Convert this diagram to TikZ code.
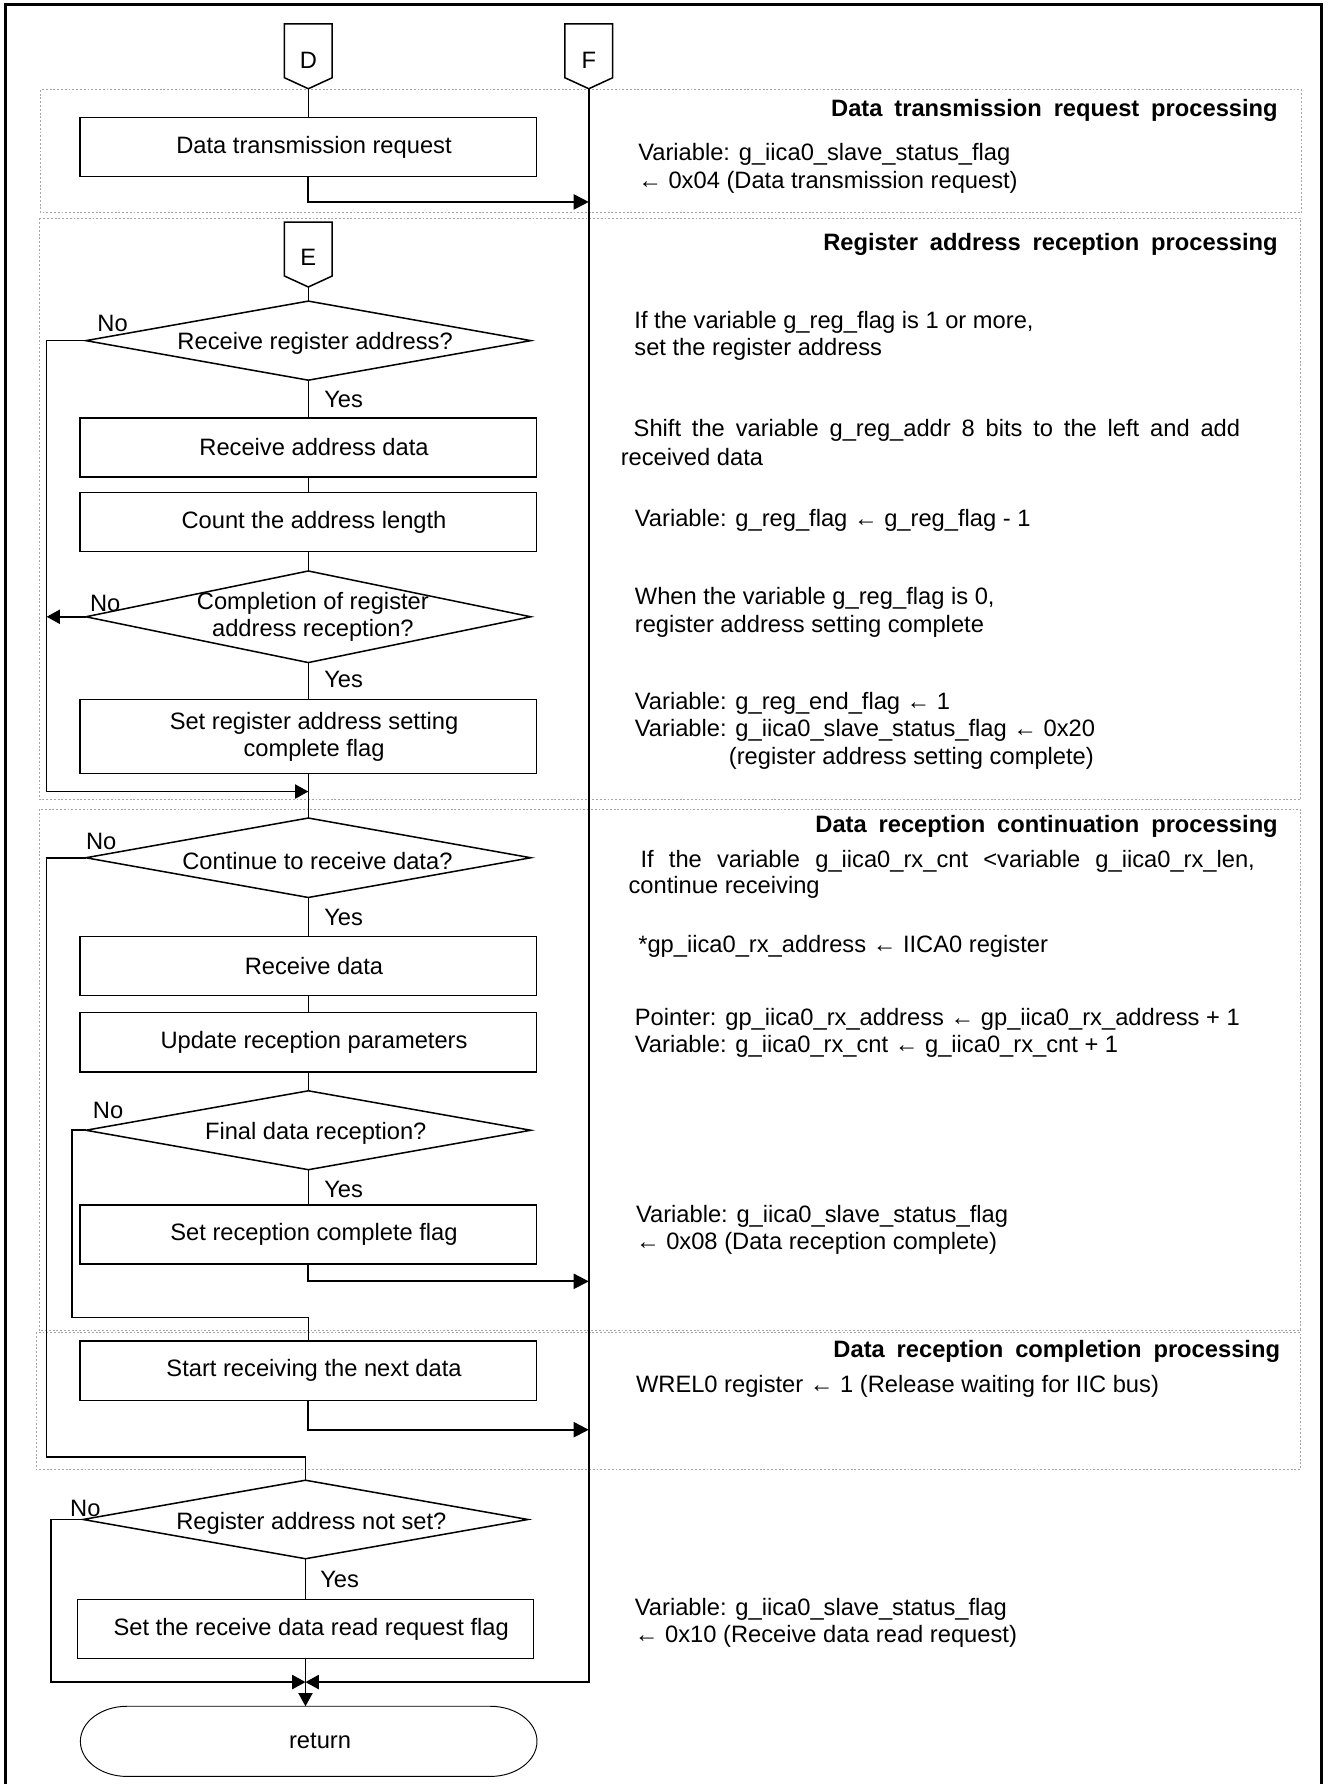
\documentclass[tikz,border=0pt]{standalone}
\usepackage{fontspec}
\setmainfont{Liberation Sans}
\usetikzlibrary{arrows.meta,shapes.geometric}
\newcommand{\myfs}{\fontsize{12.5pt}{14.4pt}\selectfont}
\newcommand{\hd}[1]{{\bfseries\spaceskip=0.5em plus 0.2em minus 0.05em\relax #1}}
\begin{document}
\begin{tikzpicture}[x=0.6pt,y=-0.6pt,
  every node/.style={font=\myfs,inner sep=0pt,outer sep=0pt},
  ln/.style={line width=0.8pt},
  arw/.style={line width=0.8pt,-{Triangle[length=7pt,width=7.5pt]}},
  farw/.style={line width=1pt,-{Triangle[length=8pt,width=8pt]}},
  proc/.style={draw,line width=0.8pt,minimum width=240.6pt,minimum height=31.2pt,execute at begin node={\hspace*{6pt}}},
  dec/.style={draw,diamond,line width=0.8pt,minimum width=234.6pt,minimum height=#1},
  conn/.style={inner sep=0pt,minimum width=25.2pt,minimum height=34.2pt},
  region/.style={draw=black!35,line width=0.4pt,dash pattern=on 1pt off 1pt},
  rtxt/.style={anchor=west,align=left},
  rhd/.style={anchor=east},
]
\useasboundingbox (0,0) rectangle (1167,1568);

% outer frame
\draw[line width=1.5pt] (4.5,1570) -- (4.5,4) -- (1161.5,4) -- (1161.5,1570);

% regions
\draw[region] (35.4,79) rectangle (1144,187);
\draw[region] (35,192) rectangle (1143,703);
\draw[region] (34.3,711) rectangle (1143,1169);
\draw[region] (31.7,1171) rectangle (1143,1291.7);

% rails and junctions
\coordinate (L1) at (41,0);
\coordinate (L2) at (63.3,0);
\coordinate (L3) at (44.7,0);
\coordinate (j2) at (271,695.7);
\coordinate (j4) at (271,1158);
\coordinate (j5) at (268.5,1280.6);
\coordinate (jL) at (268.5,1478.4);
\coordinate (f1) at (517.5,177.5);
\coordinate (f2) at (517.5,1126.2);
\coordinate (f3) at (517.5,1256.6);
\coordinate (fE) at (517.5,1478.4);

% off-page connectors
\node[conn] (D) at (271,49.5) {\raisebox{-2pt}[\height][0pt]{D}};
\node[conn] (F) at (517.5,49.5) {\raisebox{-2pt}[\height][0pt]{F}};
\node[conn] (E) at (271,223.75) {\raisebox{-1.6pt}[\height][0pt]{E}};
\foreach \c in {D,F,E}{
  \draw[ln,fill=white] (\c.north west) -- (\c.north east) -- ([yshift=5.8pt]\c.south east) -- (\c.south) -- ([yshift=5.8pt]\c.south west) -- cycle;
}
\node at (D) {\raisebox{-2pt}[\height][0pt]{D}};
\node at (F) {\raisebox{-2pt}[\height][0pt]{F}};
\node at (E) {\raisebox{-1.6pt}[\height][0pt]{E}};

% process boxes
\node[proc] (dtr) at (271,129.3) {Data transmission request};
\node[proc] (b2) at (271,393.3) {Receive address data};
\node[proc] (b3) at (271,458.9) {Count the address length};
\node[proc,minimum height=39pt,align=center] (b4) at (271,647.5) {Set register address setting\\complete flag};
\node[proc] (b5) at (271,849) {Receive data};
\node[proc] (b6) at (271,916) {Update reception parameters};
\node[proc] (b7) at (271,1084.9) {Set reception complete flag};
\node[proc] (b8) at (271,1204.75) {Start receiving the next data};
\node[proc] (b9) at (268.5,1431.65) {Set the receive data read request flag};

% decisions
\node[dec=41.7pt] (d1) at (271,299.4) {};
\node[dec=48.3pt] (d2) at (271,542.1) {};
\node[dec=41.9pt] (d3) at (271,753.9) {};
\node[dec=41.6pt] (d4) at (271,993.4) {};
\node[dec=41.4pt] (d5) at (268.5,1335.5) {};
\node (d1t) at (277,301.7) {Receive register address?};
\node[align=center] (d2t) at (275,542) {Completion of register\\address reception?};
\node (d3t) at (279,756.6) {Continue to receive data?};
\node (d4t) at (277.5,996.5) {Final data reception?};
\node (d5t) at (273.7,1339) {Register address not set?};

% Yes / No
\node (n1) at (99,284) {No};
\node (y1) at (302,351.5) {Yes};
\node (n2) at (92.5,530) {No};
\node (y2) at (302,597.6) {Yes};
\node (n3) at (89,739.6) {No};
\node (y3) at (302,806.8) {Yes};
\node (n4) at (95,976) {No};
\node (y4) at (302,1045.6) {Yes};
\node (n5) at (75,1325.5) {No};
\node (y5) at (298.5,1388.5) {Yes};

% terminal
\node[minimum width=240.8pt,minimum height=37pt] (ret) at (271.3,1530.5) {\hspace*{12pt}return};
\draw[line width=0.5pt] ([xshift=24.6pt]ret.north west) -- ([xshift=-24.6pt]ret.north east)
  arc[start angle=90,end angle=-90,x radius=24.6pt,y radius=18.5pt]
  -- ([xshift=24.6pt]ret.south west)
  arc[start angle=270,end angle=90,x radius=24.6pt,y radius=18.5pt] -- cycle;

% vertical flow
\draw[ln] (D.south) -- (dtr.north);
\draw[ln] (E.south) -- (d1.north);
\draw[ln] (d1.south) -- (b2.north);
\draw[ln] (b2.south) -- (b3.north);
\draw[ln] (b3.south) -- (d2.north);
\draw[ln] (d2.south) -- (b4.north);
\draw[ln] (b4.south) -- (d3.north);
\draw[ln] (d3.south) -- (b5.north);
\draw[ln] (b5.south) -- (b6.north);
\draw[ln] (b6.south) -- (d4.north);
\draw[ln] (d4.south) -- (b7.north);
\draw[ln] (d5.south) -- (b9.north);
\draw[arw] (b9.south) -- (b9.south |- ret.north);

% No branches
\draw[arw] (d1.west) -- (L1 |- d1.west) -- (L1 |- j2) -- (j2);
\draw[arw] (d2.west) -- (L1 |- d2.west);
\draw[ln] (d3.west) -- (L1 |- d3.west) -- (L1 |- j5) -- (j5) -- (d5.north);
\draw[ln] (d4.west) -- (L2 |- d4.west) -- (L2 |- j4) -- (j4) -- (b8.north);
\draw[arw] (d5.west) -- (L3 |- d5.west) -- (L3 |- jL) -- (jL);

% to F line
\draw[farw] (dtr.south) |- (f1);
\draw[farw] (b7.south) |- (f2);
\draw[farw] (b8.south) |- (f3);
\draw[arw] (F.south) -- (fE) -- (jL);

% right column
\node[rhd] (h1) at (1123,96.7) {\hd{Data transmission request processing}};
\node[rtxt] (t1) at (561,148) {Variable: g\_iica0\_slave\_status\_flag\\← 0x04 (Data transmission request)};
\node[rhd] (h2) at (1123,215) {\hd{Register address reception processing}};
\node[rtxt] (t2) at (557.6,295) {If the variable g\_reg\_flag is 1 or more,\\set the register address};
\node[rtxt] (t3) at (557,378) {\makebox[319.8pt][s]{Shift the variable g\_reg\_addr 8 bits to the left and add}};
\node[rtxt] (t4) at (545.6,401.8) {received data};
\node[rtxt] (t5) at (558,457) {Variable: g\_reg\_flag ← g\_reg\_flag - 1};
\node[rtxt] (t6) at (558,538.3) {When the variable g\_reg\_flag is 0,\\register address setting complete};
\node[rtxt] (t7) at (558,642.3) {Variable: g\_reg\_end\_flag ← 1\\Variable: g\_iica0\_slave\_status\_flag ← 0x20\\\hspace*{49.6pt}(register address setting complete)};
\node[rhd] (h3) at (1123,726.4) {\hd{Data reception continuation processing}};
\node[rtxt] (t8) at (563,757) {\makebox[324pt][s]{If the variable g\_iica0\_rx\_cnt <variable g\_iica0\_rx\_len,}};
\node[rtxt] (t9) at (552.5,780) {continue receiving};
\node[rtxt] (t10) at (561,832) {*gp\_iica0\_rx\_address ← IICA0 register};
\node[rtxt] (t11) at (558,908) {Pointer: gp\_iica0\_rx\_address ← gp\_iica0\_rx\_address + 1\\Variable: g\_iica0\_rx\_cnt ← g\_iica0\_rx\_cnt + 1};
\node[rtxt] (t12) at (559,1080.7) {Variable: g\_iica0\_slave\_status\_flag\\← 0x08 (Data reception complete)};
\node[rhd] (h4) at (1125,1187.7) {\hd{Data reception completion processing}};
\node[rtxt] (t13) at (559,1218.5) {WREL0 register ← 1 (Release waiting for IIC bus)};
\node[rtxt] (t14) at (558,1426.5) {Variable: g\_iica0\_slave\_status\_flag\\← 0x10 (Receive data read request)};
\end{tikzpicture}
\end{document}
